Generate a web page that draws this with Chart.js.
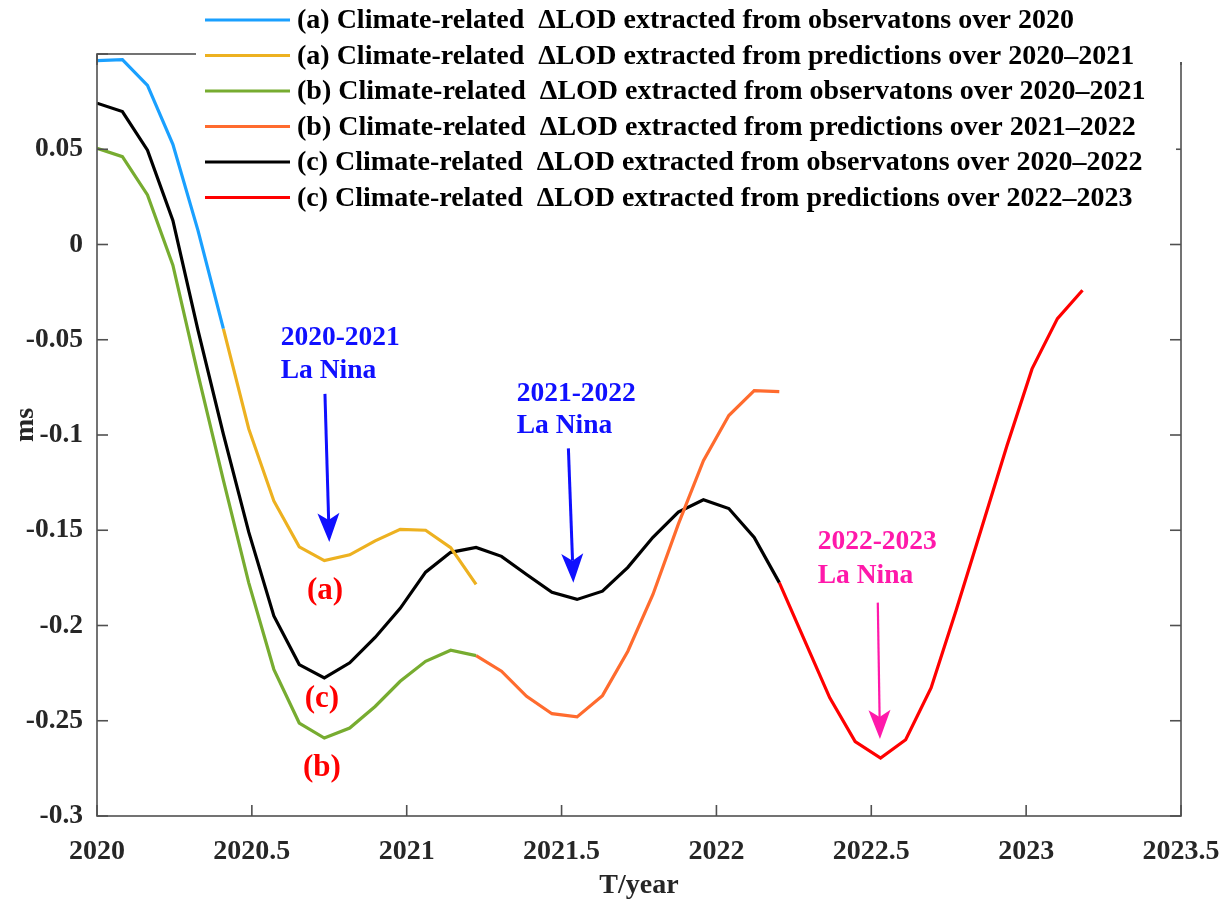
<!DOCTYPE html>
<html>
<head>
<meta charset="utf-8">
<script src="https://cdn.jsdelivr.net/npm/chart.js@4.4.0/dist/chart.umd.min.js"></script>
<style>
  html, body { margin: 0; padding: 0; background: #fff; }
  #wrap { width: 1225px; height: 907px; }
</style>
</head>
<body>
<div id="wrap"><canvas id="lodChart" width="1225" height="907"></canvas></div>
<script>
// sample times (decimal year), roughly one every 30 days
const times = [
  2020.000, 2020.082, 2020.163, 2020.245, 2020.326, 2020.408, 2020.490, 2020.571,
  2020.653, 2020.734, 2020.816, 2020.898, 2020.979, 2021.061, 2021.142, 2021.224,
  2021.306, 2021.387, 2021.469, 2021.550, 2021.632, 2021.714, 2021.795, 2021.877,
  2021.958, 2022.040, 2022.122, 2022.203, 2022.285, 2022.366, 2022.448, 2022.530,
  2022.611, 2022.693, 2022.774, 2022.856, 2022.938, 2023.019, 2023.101, 2023.182
];

// climate-related dLOD (ms), each series starts at the index given next to it
const aObs = [0.0965, 0.097, 0.0835, 0.0526, 0.0074, -0.0442];                 // from 0
const aPred = [-0.0442, -0.0968, -0.1346, -0.1587, -0.1659, -0.1629, -0.1556,
  -0.1495, -0.150, -0.1591, -0.1784];                                             // from 5
const bObs = [0.0505, 0.0461, 0.026, -0.0109, -0.068, -0.1237, -0.1776, -0.223,
  -0.2512, -0.2591, -0.2538, -0.2425, -0.2293, -0.2188, -0.213, -0.2158];         // from 0
const bPred = [-0.2158, -0.224, -0.2372, -0.2463, -0.248, -0.2368, -0.2135,
  -0.1837, -0.1468, -0.1135, -0.0898, -0.0767, -0.0772];                          // from 15
const cObs = [0.0742, 0.0698, 0.0495, 0.0126, -0.045, -0.0995, -0.151, -0.195,
  -0.2205, -0.2275, -0.2196, -0.2063, -0.191, -0.172, -0.1616, -0.159, -0.1637,
  -0.1732, -0.1826, -0.1863, -0.182, -0.1695, -0.1537, -0.1405, -0.134, -0.1386,
  -0.1538, -0.1775];                                                              // from 0
const cPred = [-0.1775, -0.2079, -0.238, -0.2609, -0.2696, -0.26, -0.2328,
  -0.192, -0.149, -0.1056, -0.0653, -0.0389, -0.024];                             // from 27

const seriesNames = [
  '(a) Climate-related  \u0394LOD extracted from observatons over 2020',
  '(a) Climate-related  \u0394LOD extracted from predictions over 2020\u20132021',
  '(b) Climate-related  \u0394LOD extracted from observatons over 2020\u20132021',
  '(b) Climate-related  \u0394LOD extracted from predictions over 2021\u20132022',
  '(c) Climate-related  \u0394LOD extracted from observatons over 2020\u20132022',
  '(c) Climate-related  \u0394LOD extracted from predictions over 2022\u20132023'
];
const seriesColors = ['#1AA0FF', '#EDB120', '#77AC30', '#FF6B2E', '#000000', '#FF0000'];

const serif = '"Liberation Serif", "Times New Roman", serif';

function pts(start, vals) {
  return vals.map((v, i) => ({ x: times[start + i], y: v }));
}

const seriesData = [pts(0, aObs), pts(5, aPred), pts(0, bObs), pts(15, bPred), pts(0, cObs), pts(27, cPred)];

// La Nina notes and case labels, placed in data units
const notes = [
  { text: '2020-2021', x: 2020.593, y: -0.053, color: '#1010FF', size: 27.5, align: 'left' },
  { text: 'La Nina', x: 2020.593, y: -0.070, color: '#1010FF', size: 27.5, align: 'left' },
  { text: '2021-2022', x: 2021.355, y: -0.082, color: '#1010FF', size: 27.5, align: 'left' },
  { text: 'La Nina', x: 2021.355, y: -0.099, color: '#1010FF', size: 27.5, align: 'left' },
  { text: '2022-2023', x: 2022.327, y: -0.160, color: '#FF19AA', size: 27.5, align: 'left' },
  { text: 'La Nina', x: 2022.327, y: -0.1775, color: '#FF19AA', size: 27.5, align: 'left' },
  { text: '(a)', x: 2020.736, y: -0.186, color: '#FF0000', size: 31, align: 'center' },
  { text: '(c)', x: 2020.726, y: -0.243, color: '#FF0000', size: 31, align: 'center' },
  { text: '(b)', x: 2020.726, y: -0.279, color: '#FF0000', size: 31, align: 'center' }
];
const arrows = [
  { x0: 2020.736, y0: -0.0784, x1: 2020.750, y1: -0.1562, color: '#1010FF', w: 3 },
  { x0: 2021.522, y0: -0.107, x1: 2021.538, y1: -0.1775, color: '#1010FF', w: 3 },
  { x0: 2022.521, y0: -0.188, x1: 2022.528, y1: -0.2596, color: '#FF19AA', w: 2.2 }
];

function line(ctx, x0, y0, x1, y1) {
  ctx.beginPath();
  ctx.moveTo(x0, y0);
  ctx.lineTo(x1, y1);
  ctx.stroke();
}

const decor = {
  id: 'decor',
  afterDraw(chart) {
    const { ctx, chartArea: a, scales: { x, y } } = chart;
    ctx.save();

    // axes box + inward ticks
    ctx.strokeStyle = '#505050';
    ctx.lineWidth = 1.6;
    ctx.strokeRect(a.left, a.top, a.right - a.left, a.bottom - a.top);
    x.ticks.forEach(t => {
      const px = x.getPixelForValue(t.value);
      line(ctx, px, a.bottom, px, a.bottom - 11);
      line(ctx, px, a.top, px, a.top + 11);
    });
    y.ticks.forEach(t => {
      const py = y.getPixelForValue(t.value);
      line(ctx, a.left, py, a.left + 11, py);
      line(ctx, a.right, py, a.right - 11, py);
    });

    // legend (sits over the top of the box)
    ctx.fillStyle = '#fff';
    ctx.fillRect(196, 0, 980, 216);
    ctx.fillRect(1170, 0, 20, 62);
    ctx.font = 'bold 28px ' + serif;
    ctx.textBaseline = 'middle';
    ctx.textAlign = 'left';
    chart.data.datasets.forEach((ds, i) => {
      const ly = 20 + i * 35.5;
      ctx.strokeStyle = ds.borderColor;
      ctx.lineWidth = 3.2;
      line(ctx, 205, ly, 290, ly);
      ctx.fillStyle = '#000';
      ctx.fillText(ds.label, 297, ly + 1);
    });

    // arrows
    arrows.forEach(ar => {
      const x0 = x.getPixelForValue(ar.x0), y0 = y.getPixelForValue(ar.y0);
      const x1 = x.getPixelForValue(ar.x1), y1 = y.getPixelForValue(ar.y1);
      const ang = Math.atan2(y1 - y0, x1 - x0);
      const len = 29, half = 11, notch = 7;
      const bx = x1 - len * Math.cos(ang), by = y1 - len * Math.sin(ang);
      ctx.strokeStyle = ar.color;
      ctx.fillStyle = ar.color;
      ctx.lineWidth = ar.w;
      line(ctx, x0, y0, bx + notch * Math.cos(ang), by + notch * Math.sin(ang));
      ctx.beginPath();
      ctx.moveTo(x1, y1);
      ctx.lineTo(bx - half * Math.sin(ang), by + half * Math.cos(ang));
      ctx.lineTo(bx + notch * Math.cos(ang), by + notch * Math.sin(ang));
      ctx.lineTo(bx + half * Math.sin(ang), by - half * Math.cos(ang));
      ctx.closePath();
      ctx.fill();
    });

    // notes
    ctx.textBaseline = 'alphabetic';
    notes.forEach(n => {
      ctx.font = 'bold ' + n.size + 'px ' + serif;
      ctx.fillStyle = n.color;
      ctx.textAlign = n.align;
      ctx.fillText(n.text, x.getPixelForValue(n.x), y.getPixelForValue(n.y));
    });

    // axis titles
    ctx.fillStyle = '#262626';
    ctx.font = 'bold 28px ' + serif;
    ctx.textAlign = 'center';
    ctx.textBaseline = 'middle';
    ctx.fillText('T/year', (a.left + a.right) / 2, 886);
    ctx.translate(26, 425);
    ctx.rotate(-Math.PI / 2);
    ctx.fillText('ms', 0, 0);
    ctx.restore();
  }
};

const ctx = document.getElementById('lodChart');
const lodChart = new Chart(ctx, {
  type: 'line',
  data: {
    datasets: seriesData.map((d, i) => ({
      label: seriesNames[i],
      data: d,
      borderColor: seriesColors[i],
      borderWidth: 3.2,
      pointRadius: 0,
      tension: 0,
      fill: false
    }))
  },
  options: {
    responsive: false,
    animation: false,
    devicePixelRatio: 1,
    layout: { padding: { left: 0, right: 44, top: 54, bottom: 0 } },
    plugins: { legend: { display: false }, tooltip: { enabled: false } },
    scales: {
      x: {
        type: 'linear',
        min: 2020,
        max: 2023.5,
        afterFit: s => { s.height = 91; s.paddingLeft = 0; s.paddingRight = 0; },
        border: { display: false },
        grid: { display: false, drawTicks: false },
        ticks: {
          stepSize: 0.5,
          maxRotation: 0,
          padding: 19,
          color: '#262626',
          font: { family: serif, weight: 'bold', size: 28 },
          callback: v => String(v)
        }
      },
      y: {
        min: -0.3,
        max: 0.1,
        afterFit: s => { s.width = 97; s.paddingTop = 0; s.paddingBottom = 0; },
        border: { display: false },
        grid: { display: false, drawTicks: false },
        ticks: {
          stepSize: 0.05,
          padding: 14,
          color: '#262626',
          font: { family: serif, weight: 'bold', size: 27.5 },
          callback: v => (Math.abs(v - 0.1) < 1e-9 ? '' : String(Number(v.toFixed(2))))
        }
      }
    }
  },
  plugins: [decor]
});
</script>
</body>
</html>
